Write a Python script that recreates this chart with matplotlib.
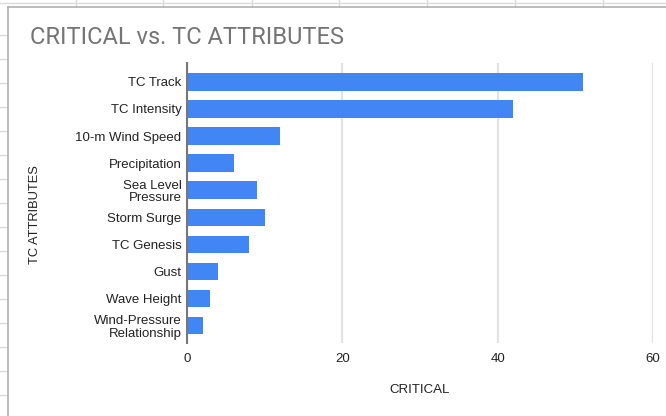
import matplotlib
matplotlib.use("Agg")
import matplotlib.pyplot as plt
from matplotlib.lines import Line2D

categories = ["TC Track", "TC Intensity", "10-m Wind Speed", "Precipitation",
              "Sea Level\nPressure", "Storm Surge", "TC Genesis", "Gust",
              "Wave Height", "Wind-Pressure\nRelationship"]
critical = [51, 42, 12, 6, 9, 10, 8, 4, 3, 2]
xticks = [0, 20, 40, 60]

W, H = 666, 416
fig = plt.figure(figsize=(W / 100, H / 100), dpi=100)
fig.patch.set_facecolor("white")

def fx(px):
    return px / W

def fy(py):
    return 1 - py / H

# spreadsheet background grid (outside chart frame)
grid_col = "#dadada"
for x in [76, 163, 252, 339, 427, 515, 603]:
    fig.add_artist(Line2D([fx(x), fx(x)], [fy(0), fy(6)], color=grid_col, lw=1))
fig.add_artist(Line2D([0, 1], [fy(3), fy(3)], color=grid_col, lw=1))
for y in range(35, 416, 24):
    fig.add_artist(Line2D([0, fx(7)], [fy(y), fy(y)], color=grid_col, lw=1))
# chart frame
fig.add_artist(Line2D([fx(8), fx(8)], [fy(7), 0], color="#b0b0b0", lw=1.2))
fig.add_artist(Line2D([fx(8), 1], [fy(7), fy(7)], color="#b0b0b0", lw=1.2))

ax = fig.add_axes([fx(187), fy(343), fx(653) - fx(187), fy(63) - fy(343)])
ypos = list(range(len(categories)))
ax.barh(ypos, critical, height=0.64, color="#4285F4", zorder=3)
ax.set_ylim(9.65, -0.70)
ax.set_xlim(0, 60)
ax.set_xticks(xticks)
ax.set_xticklabels([str(t) for t in xticks], fontsize=9.5, family="Liberation Sans", color="#222222")
ax.set_yticks(ypos)
ax.set_yticklabels(categories, fontsize=9.5, family="Liberation Sans", color="#222222",
                   linespacing=1.08)
ax.tick_params(axis="both", length=0)
ax.tick_params(axis="y", pad=4)
ax.tick_params(axis="x", pad=7)
ax.grid(axis="x", color="#e2e2e2", lw=1.6, zorder=0)
for s in ["top", "right", "bottom"]:
    ax.spines[s].set_visible(False)
ax.spines["left"].set_color("#777777")
ax.spines["left"].set_linewidth(1.5)
ax.spines["left"].set_zorder(4)

fig.text(fx(420), fy(390), "CRITICAL", ha="center", va="center",
         fontsize=9.5, family="Liberation Sans", color="#222222")
fig.text(fx(35), fy(215), "TC ATTRIBUTES", ha="center", va="center", rotation=90,
         fontsize=9.3, family="Liberation Sans", color="#222222")
fig.text(fx(30), fy(38), "CRITICAL vs. TC ATTRIBUTES", ha="left", va="center",
         fontsize=17, family="Roboto", color="#757575")

fig.savefig("out.png", dpi=100)
